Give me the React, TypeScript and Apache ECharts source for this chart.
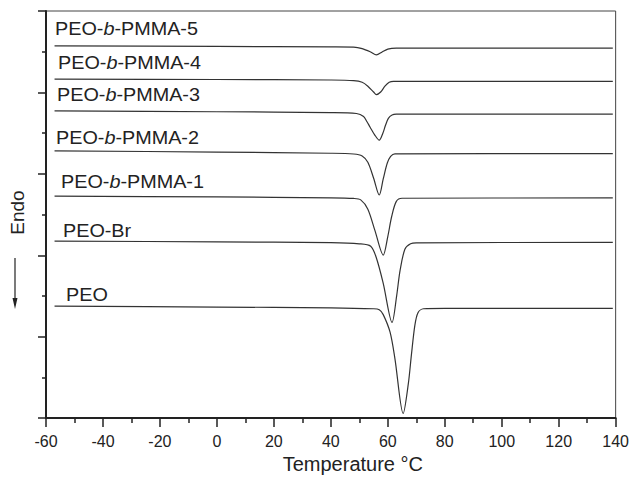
import React, { useEffect, useRef } from "react";
import * as echarts from "echarts";

// Temperature (°C) vs heat flow (arbitrary units, endo down)
const pmma5: [number, number][] = [
  [-57, 9.144], [0, 9.129], [40, 9.118], [48, 9.113], [51, 9.077], [54, 8.993],
  [56, 8.921], [58, 8.993], [60, 9.065], [63, 9.089], [100, 9.089], [139, 9.089],
];
const pmma4: [number, number][] = [
  [-57, 8.329], [0, 8.317], [40, 8.305], [48, 8.29], [51, 8.249], [53, 8.153],
  [55, 8.01], [56, 7.945], [57.5, 8.01], [59, 8.153], [60.5, 8.249], [62, 8.273], [139, 8.273],
];
const pmma3: [number, number][] = [
  [-57, 7.547], [0, 7.525], [40, 7.506], [49, 7.482], [51.5, 7.41], [52.7, 7.28],
  [53.8, 7.146], [55.5, 6.947], [57, 6.827], [58.3, 7.002], [59.2, 7.194], [60.2, 7.362],
  [61.5, 7.446], [63, 7.465], [139, 7.465],
];
const pmma2: [number, number][] = [
  [-57, 6.564], [0, 6.535], [40, 6.506], [48, 6.487], [51, 6.439], [53, 6.283],
  [55, 5.899], [57, 5.48], [58.4, 5.875], [59.8, 6.259], [61, 6.427], [62.5, 6.492], [139, 6.499],
];
const pmma1: [number, number][] = [
  [-57, 5.451], [0, 5.432], [40, 5.412], [48, 5.396], [50.5, 5.36], [53, 5.132],
  [55.5, 4.604], [58.4, 4.005], [60, 4.46], [61.4, 4.964], [63, 5.324], [65, 5.4], [139, 5.408],
];
const peoBr: [number, number][] = [
  [-57, 4.348], [0, 4.329], [40, 4.309], [50, 4.281], [54, 4.221], [56, 3.933],
  [58.4, 3.309], [61.5, 2.35], [63.1, 2.998], [64.3, 3.621], [66, 4.149], [68, 4.281],
  [70, 4.305], [139, 4.317],
];
const peo: [number, number][] = [
  [-57, 2.751], [0, 2.727], [40, 2.71], [55, 2.686], [57, 2.662], [58.4, 2.542],
  [60.8, 2.11], [62.5, 1.463], [65.4, 0.113], [67.2, 0.839], [68.3, 1.559], [69.5, 2.278],
  [70.6, 2.59], [72.5, 2.686], [80, 2.693], [139, 2.693],
];

const seriesNames = [
  "PEO-b-PMMA-5", "PEO-b-PMMA-4", "PEO-b-PMMA-3", "PEO-b-PMMA-2",
  "PEO-b-PMMA-1", "PEO-Br", "PEO",
];
const seriesData = [pmma5, pmma4, pmma3, pmma2, pmma1, peoBr, peo];
const labelTexts = [
  "PEO-{i|b}-PMMA-5", "PEO-{i|b}-PMMA-4", "PEO-{i|b}-PMMA-3", "PEO-{i|b}-PMMA-2",
  "PEO-{i|b}-PMMA-1", "PEO-Br", "PEO",
];
const labelPos: [number, number][] = [
  [55, 29], [58, 63], [57, 95], [56, 138], [61, 182], [63, 231], [66, 295],
];

const FONT = "'Liberation Sans', Arial, Helvetica, sans-serif";

export default function App() {
  const ref = useRef<HTMLDivElement>(null);
  useEffect(() => {
    if (!ref.current) return;
    const chart = echarts.init(ref.current, undefined, { renderer: "svg" });
    const axisColor = "#222";
    chart.setOption({
      animation: false,
      backgroundColor: "#fff",
      grid: {
        left: 44, right: 15, top: 11, bottom: 50,
        show: true, borderColor: "#444", borderWidth: 1,
      },
      xAxis: {
        type: "value",
        min: -60, max: 140, interval: 20,
        name: "Temperature °C",
        nameLocation: "middle",
        nameGap: 34,
        nameTextStyle: { fontSize: 20, fontFamily: FONT, color: "#222", padding: [0, 0, 0, 44] },
        axisLine: { show: true, onZero: false, lineStyle: { color: axisColor, width: 2 } },
        axisTick: { show: true, inside: false, length: 9, lineStyle: { color: axisColor, width: 1.5 } },
        minorTick: { show: true, splitNumber: 2, length: 5, lineStyle: { color: axisColor, width: 1.5 } },
        axisLabel: { fontSize: 16, fontFamily: FONT, color: "#222", margin: 15, showMaxLabel: true },
        splitLine: { show: false },
      },
      yAxis: {
        type: "value",
        min: 0, max: 10, interval: 2,
        name: "Endo",
        nameLocation: "middle",
        nameGap: 19,
        nameRotate: 90,
        nameTextStyle: { fontSize: 19, fontFamily: FONT, color: "#222", padding: [0, 0, 0, 4] },
        axisLine: { show: true, onZero: false, lineStyle: { color: axisColor, width: 2 } },
        axisTick: { show: true, inside: false, length: 8, lineStyle: { color: axisColor, width: 1.5 } },
        minorTick: { show: true, splitNumber: 2, length: 4, lineStyle: { color: axisColor, width: 1.5 } },
        axisLabel: { show: false },
        splitLine: { show: false },
      },
      series: seriesData.map((d, i) => ({
        name: seriesNames[i],
        type: "line",
        data: d,
        showSymbol: false,
        smooth: 0.3,
        lineStyle: { color: "#333", width: 1.2 },
      })),
      graphic: [
        ...labelTexts.map((t, i) => ({
          type: "text",
          x: labelPos[i][0],
          y: labelPos[i][1],
          scaleX: 1.1,
          style: {
            text: t,
            fontSize: 18,
            fontFamily: FONT,
            fill: "#222",
            align: "left",
            verticalAlign: "middle",
            rich: {
              i: { fontStyle: "italic", fontSize: 18, fontFamily: FONT, fill: "#222" },
            },
          },
        })),
        {
          type: "line",
          shape: { x1: 15, y1: 258, x2: 15, y2: 300 },
          style: { stroke: "#222", lineWidth: 1.2 },
        },
        {
          type: "polygon",
          shape: { points: [[12.5, 298], [17.5, 298], [15, 309]] },
          style: { fill: "#222" },
        },
      ],
    });
    return () => chart.dispose();
  }, []);
  return (
    <div
      ref={ref}
      style={{ position: "absolute", left: 0, top: 0, width: 632, height: 479 }}
    />
  );
}
